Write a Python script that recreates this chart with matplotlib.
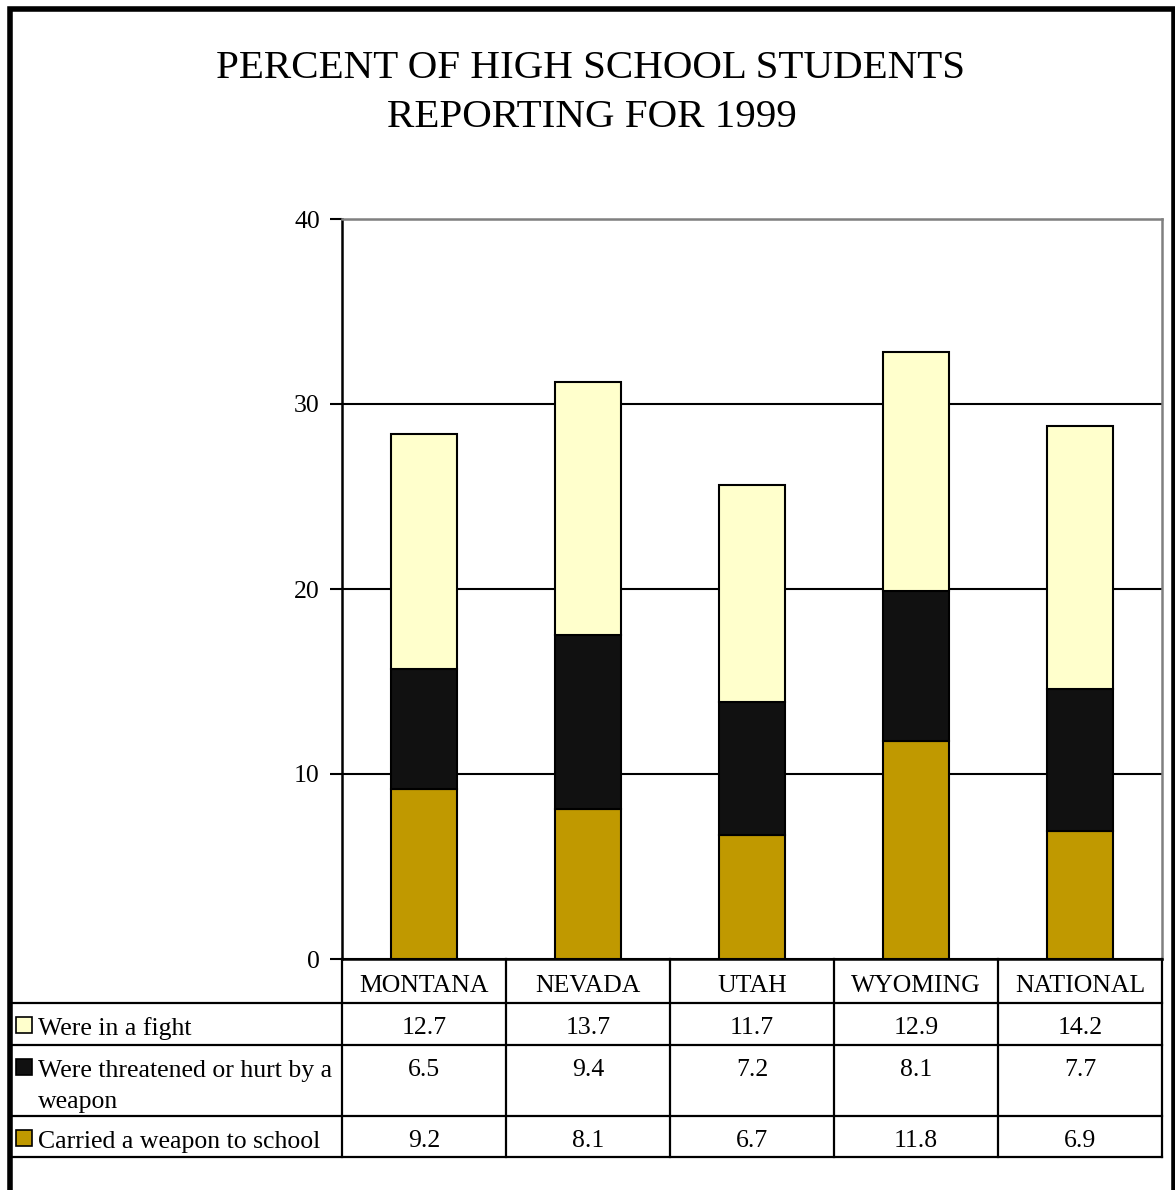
import numpy as np
import matplotlib.pyplot as plt
from matplotlib.patches import Rectangle

# data
estados = ['MONTANA', 'NEVADA', 'UTAH', 'WYOMING', 'NATIONAL']
briga = [12.7, 13.7, 11.7, 12.9, 14.2]
ameacado = [6.5, 9.4, 7.2, 8.1, 7.7]
arma = [9.2, 8.1, 6.7, 11.8, 6.9]
series_nomes = ['Were in a fight', 'Were threatened or hurt by a\nweapon', 'Carried a weapon to school']
cores = ['#FFFFCC', '#111111', '#C09900']
y_ticks = [0, 10, 20, 30, 40]

plt.rcParams['font.family'] = ['Liberation Serif', 'DejaVu Serif']

W, H = 1175, 1190
fig = plt.figure(figsize=(W / 100, H / 100), dpi=100)

# area do grafico (coordenadas em pixels da referencia)
x0, x1, y_top, y_bot = 342, 1162, 219, 959
ax = fig.add_axes([x0 / W, 1 - y_bot / H, (x1 - x0) / W, (y_bot - y_top) / H])

x = np.arange(len(estados))
ax.bar(x, arma, 0.4, color=cores[2], edgecolor='black', lw=1.5, zorder=3)
ax.bar(x, ameacado, 0.4, bottom=arma, color=cores[1], edgecolor='black', lw=1.5, zorder=3)
base2 = np.array(arma) + np.array(ameacado)
ax.bar(x, briga, 0.4, bottom=base2, color=cores[0], edgecolor='black', lw=1.5, zorder=3)

ax.set_xlim(-0.5, len(estados) - 0.5)
ax.set_ylim(0, 40)
ax.set_yticks(y_ticks)
ax.set_xticks([])
ax.tick_params(axis='y', length=9, width=1.5, labelsize=18.5, pad=7)
ax.yaxis.grid(True, color='black', lw=1.5)
ax.set_axisbelow(True)
for s in ['left', 'bottom']:
    ax.spines[s].set_color('black')
    ax.spines[s].set_linewidth(1.8)
for s in ['top', 'right']:
    ax.spines[s].set_color('#808080')
    ax.spines[s].set_linewidth(1.8)

# camada de pixels para tabela, titulo e borda
ov = fig.add_axes([0, 0, 1, 1], zorder=5)
ov.set_xlim(0, W)
ov.set_ylim(H, 0)
ov.axis('off')
ov.patch.set_alpha(0)

ov.text(590, 78, 'PERCENT OF HIGH SCHOOL STUDENTS', ha='center', va='baseline', fontsize=29.5)
ov.text(592, 127, 'REPORTING FOR 1999', ha='center', va='baseline', fontsize=29.5)

# borda externa
ov.plot([9.5, 9.5, 1173.5, 1173.5], [H + 5, 9, 9, H + 5], color='black', lw=4, solid_joinstyle='miter')

# tabela
linhas_y = [1003, 1045, 1116, 1157]
for yy in linhas_y:
    ov.plot([12, x1], [yy, yy], color='black', lw=1.6)
larg = (x1 - x0) / len(estados)
for i in range(len(estados) + 1):
    xx = x0 + i * larg
    ov.plot([xx, xx], [y_bot, 1157], color='black', lw=1.6)

tabela = [briga, ameacado, arma]
base_y = [1034, 1076, 1147]
for i, nome in enumerate(estados):
    cx = x0 + (i + 0.5) * larg
    ov.text(cx, 992, nome, ha='center', va='baseline', fontsize=18.5)
    for j, serie in enumerate(tabela):
        ov.text(cx, base_y[j], f'{serie[i]:.1f}', ha='center', va='baseline', fontsize=18.5)

for j, nome in enumerate(series_nomes):
    ov.add_patch(Rectangle((16, base_y[j] - 17), 16, 16, facecolor=cores[j], edgecolor='black', lw=1.2))
    for k, parte in enumerate(nome.split('\n')):
        ov.text(38, base_y[j] + 1 + k * 31, parte, ha='left', va='baseline', fontsize=18.5)

plt.savefig('out.png', dpi=100)
